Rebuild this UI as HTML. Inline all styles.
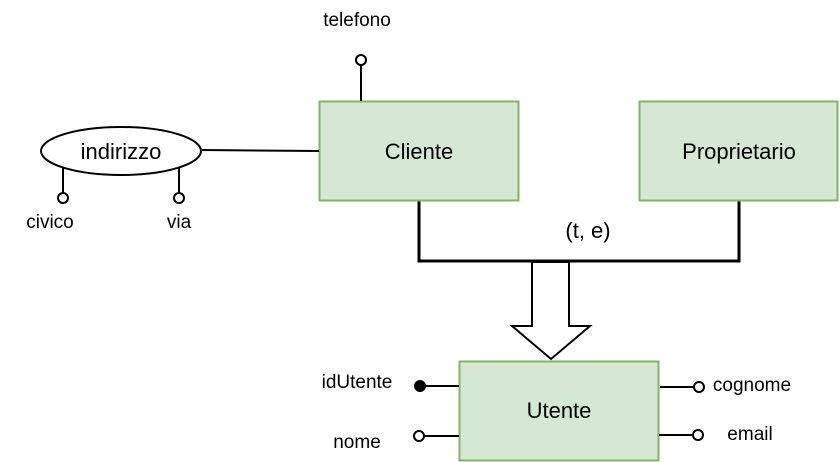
<!DOCTYPE html>
<html><head><meta charset="utf-8"><style>
html,body{margin:0;padding:0;background:#fff;}
svg{display:block;}
text{font-family:"Liberation Sans",Arial,sans-serif;fill:#000;}
</style></head><body>
<svg width="840" height="462" viewBox="0 0 840 462" xmlns="http://www.w3.org/2000/svg">
<polyline points="419,201 419,261 739,261 739,201" fill="none" stroke="#000" stroke-width="3"/>
<polygon points="532,262 569,262 569,326 590,326 551,359 512,326 532,326" fill="#fff" stroke="#000" stroke-width="2"/>
<text x="588" y="238" font-size="22" text-anchor="middle">(t, e)</text>

<rect x="319.5" y="101.5" width="199" height="99" fill="#d5e8d4" stroke="#82b366" stroke-width="2"/>
<text x="419" y="159" font-size="22" text-anchor="middle">Cliente</text>
<rect x="639.5" y="101.5" width="198" height="99" fill="#d5e8d4" stroke="#82b366" stroke-width="2"/>
<text x="739" y="159" font-size="22" text-anchor="middle">Proprietario</text>
<rect x="459.5" y="361.5" width="199" height="99" fill="#d5e8d4" stroke="#82b366" stroke-width="2"/>
<text x="559" y="418" font-size="22" text-anchor="middle">Utente</text>

<line x1="361" y1="65" x2="361" y2="101" stroke="#000" stroke-width="2"/>
<circle cx="361" cy="60" r="5" fill="#fff" stroke="#000" stroke-width="2"/>
<text x="357" y="26" font-size="19" text-anchor="middle">telefono</text>

<line x1="202" y1="150" x2="319" y2="151" stroke="#000" stroke-width="2"/>
<ellipse cx="121" cy="151" rx="80" ry="24" fill="#fff" stroke="#000" stroke-width="2"/>
<text x="121" y="159" font-size="22" text-anchor="middle">indirizzo</text>
<line x1="63" y1="168" x2="63" y2="193" stroke="#000" stroke-width="2"/>
<circle cx="63" cy="198" r="5" fill="#fff" stroke="#000" stroke-width="2"/>
<text x="50" y="228" font-size="19" text-anchor="middle">civico</text>
<line x1="179" y1="168" x2="179" y2="193" stroke="#000" stroke-width="2"/>
<circle cx="179" cy="198" r="5" fill="#fff" stroke="#000" stroke-width="2"/>
<text x="179" y="228" font-size="19" text-anchor="middle">via</text>

<line x1="420" y1="386" x2="459" y2="386" stroke="#000" stroke-width="2"/>
<circle cx="420" cy="386" r="5" fill="#000" stroke="#000" stroke-width="2"/>
<text x="357" y="388" font-size="19" text-anchor="middle">idUtente</text>
<line x1="424" y1="436" x2="459" y2="436" stroke="#000" stroke-width="2"/>
<circle cx="419" cy="436" r="5" fill="#fff" stroke="#000" stroke-width="2"/>
<text x="357" y="448" font-size="19" text-anchor="middle">nome</text>
<line x1="660" y1="387" x2="694" y2="387" stroke="#000" stroke-width="2"/>
<circle cx="699" cy="387" r="5" fill="#fff" stroke="#000" stroke-width="2"/>
<text x="752" y="391" font-size="19" text-anchor="middle">cognome</text>
<line x1="659" y1="435" x2="693" y2="435" stroke="#000" stroke-width="2"/>
<circle cx="698" cy="435" r="5" fill="#fff" stroke="#000" stroke-width="2"/>
<text x="750" y="440" font-size="19" text-anchor="middle">email</text>
</svg>
</body></html>
